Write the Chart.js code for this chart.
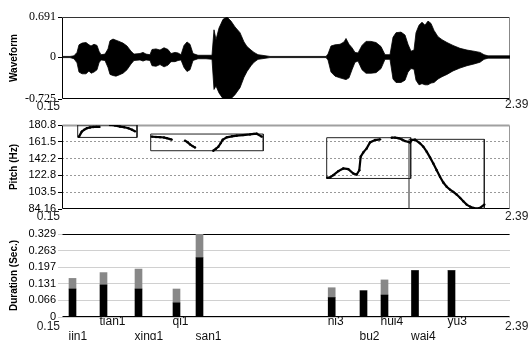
<!DOCTYPE html>
<html>
<head>
<meta charset="utf-8">
<script src="https://cdn.jsdelivr.net/npm/chart.js@4.4.1/dist/chart.umd.min.js"></script>
<style>
    html, body { margin: 0; padding: 0; background: #fff; }
    #wrap { position: relative; width: 530px; height: 340px; }
    #wrap canvas { position: absolute; left: 0; }
</style>
</head>
<body>
<div id="wrap">
    <canvas id="wave_chart" width="530" height="112" style="top:0px"></canvas>
    <canvas id="pitch_chart" width="530" height="108" style="top:112px"></canvas>
    <canvas id="dur_chart" width="530" height="120" style="top:220px"></canvas>
</div>
<script>
var timeRange = [0.15, 2.39];
var waveTicks = [-0.725, 0, 0.691];
var pitchTicks = [84.16, 103.5, 122.8, 142.2, 161.5, 180.8];
var durTicks = [0, 0.066, 0.131, 0.197, 0.263, 0.329];

// waveform envelope (seconds, upper / lower amplitude)
var waveTime = [0.15, 0.19, 0.21, 0.225, 0.235, 0.25, 0.27, 0.285, 0.295, 0.31,
    0.325, 0.335, 0.345, 0.365, 0.38, 0.39, 0.405, 0.42, 0.435, 0.455,
    0.475, 0.495, 0.51, 0.54, 0.555, 0.57, 0.59, 0.6, 0.62, 0.64,
    0.66, 0.68, 0.695, 0.715, 0.73, 0.745, 0.76, 0.775, 0.79, 0.805,
    0.83, 0.87, 0.9, 0.91, 0.92, 0.935, 0.955, 0.975, 0.995, 1.015,
    1.04, 1.06, 1.075, 1.095, 1.11, 1.13, 1.15, 1.19, 1.34, 1.47,
    1.48, 1.495, 1.515, 1.54, 1.56, 1.57, 1.585, 1.6, 1.615, 1.63,
    1.65, 1.67, 1.695, 1.72, 1.745, 1.765, 1.79, 1.805, 1.82, 1.845,
    1.865, 1.88, 1.895, 1.91, 1.92, 1.935, 1.95, 1.965, 1.98, 1.995,
    2.01, 2.03, 2.05, 2.075, 2.105, 2.14, 2.175, 2.21, 2.24, 2.26,
    2.28, 2.34, 2.39];
var waveUpper = [0.01, 0.01, 0.02, 0.08, 0.21, 0.24, 0.25, 0.21, 0.19, 0.22,
    0.20, 0.10, 0.04, 0.05, 0.14, 0.28, 0.31, 0.29, 0.27, 0.24,
    0.19, 0.10, 0.05, 0.06, 0.08, 0.05, 0.04, 0.13, 0.14, 0.12,
    0.16, 0.13, 0.06, 0.08, 0.07, 0.04, 0.20, 0.26, 0.22, 0.06,
    0.03, 0.03, 0.03, 0.47, 0.30, 0.50, 0.65, 0.69, 0.62, 0.52,
    0.42, 0.26, 0.18, 0.12, 0.08, 0.04, 0.03, 0.01, 0.01, 0.01,
    0.05, 0.19, 0.21, 0.22, 0.26, 0.32, 0.22, 0.16, 0.08, 0.07,
    0.20, 0.27, 0.27, 0.25, 0.18, 0.04, 0.04, 0.34, 0.42, 0.43,
    0.38, 0.22, 0.10, 0.12, 0.42, 0.55, 0.60, 0.55, 0.62, 0.58,
    0.46, 0.35, 0.30, 0.25, 0.20, 0.15, 0.12, 0.10, 0.08, 0.04,
    0.02, 0.02, 0.02];
var waveLower = [-0.01, -0.01, -0.03, -0.10, -0.26, -0.29, -0.29, -0.24, -0.28, -0.26,
    -0.22, -0.10, -0.05, -0.06, -0.18, -0.30, -0.32, -0.33, -0.31, -0.28,
    -0.22, -0.12, -0.06, -0.05, -0.07, -0.05, -0.06, -0.15, -0.16, -0.13,
    -0.17, -0.14, -0.08, -0.08, -0.06, -0.05, -0.18, -0.25, -0.22, -0.06,
    -0.03, -0.03, -0.04, -0.56, -0.50, -0.62, -0.72, -0.725, -0.72, -0.65,
    -0.53, -0.35, -0.25, -0.15, -0.09, -0.04, -0.03, -0.01, -0.01, -0.01,
    -0.05, -0.26, -0.33, -0.36, -0.38, -0.39, -0.36, -0.22, -0.09, -0.07,
    -0.22, -0.28, -0.28, -0.27, -0.20, -0.04, -0.04, -0.38, -0.44, -0.44,
    -0.40, -0.26, -0.20, -0.21, -0.40, -0.48, -0.46, -0.48, -0.48, -0.45,
    -0.44, -0.38, -0.34, -0.30, -0.24, -0.19, -0.15, -0.12, -0.09, -0.04,
    -0.02, -0.02, -0.02];

// pitch track, null = unvoiced gap
var pitchTime = [0.235, 0.249, 0.262, 0.274, 0.29, 0.307, 0.322, 0.337, null,
    0.39, 0.415, 0.44, 0.461, 0.482, 0.50, 0.515, null,
    0.5985, 0.62, 0.64, 0.66, 0.6735, 0.6985, null,
    0.765, 0.778, 0.79, 0.803, 0.815, null,
    0.9065, 0.92, 0.9315, 0.9435, 0.9535, 0.9735, 1.0, 1.0235, 1.055, 1.09, 1.11, 1.1235, 1.1485, null,
    1.4765, 1.49, 1.5065, 1.5315, 1.5565, 1.5815, 1.6065, 1.6235, 1.6365, 1.6435, 1.6565, 1.6735, 1.69, 1.715, 1.74, null,
    1.7985, 1.815, 1.8315, 1.85, 1.865, 1.89, 1.8985, 1.915, 1.94, 1.9565, 1.9735, 1.99, 2.0065, 2.0235,
    2.04, 2.0565, 2.0735, 2.09, 2.1065, 2.1235, 2.14, 2.1565, 2.1735, 2.19, 2.2065, 2.2235, 2.24, 2.2615];
var pitchHz = [167.4, 173.2, 175.5, 177, 178, 178.5, 178.7, 178.6, null,
    180.8, 180.2, 179, 178.2, 177, 175.3, 173.5, null,
    167.4, 167.0, 166.8, 166.4, 165.7, 164.0, null,
    162.8, 161, 158.5, 156.5, 155, null,
    151.2, 153.5, 155.8, 160, 163.9, 166.6, 167.8, 168.5, 169.2, 170, 170.6, 170.8, 167.4, null,
    120.1, 120.5, 123.1, 127.7, 130.8, 130, 125, 123.9, 128.8, 144.3, 149.3, 153.9, 160.8, 163.5, 164.3, null,
    166.2, 166.3, 165.7, 164, 162.3, 160.8, 163.5, 163.9, 159.7, 155.9, 150.1, 143.5, 136.6, 128.8,
    121.2, 114.6, 109.7, 106.5, 103.9, 100.8, 97, 93, 89.2, 86.9, 85.4, 84.6, 85.4, 89.2];

var boxStart = [0.2285, 0.5935, 1.4735, 1.885];
var boxEnd = [0.525, 1.1565, 1.8935, 2.2615];
var boxHigh = [180.8, 170.4, 166.2, 164.3];
var boxLow = [166.5, 151.2, 119.3, 84.16];

var syllables = ["jin1", "tian1", "xing1", "qi1", "san1", "ni3", "bu2", "hui4", "wai4", "yu3"];
var sylTime = [0.2025, 0.3575, 0.5325, 0.7225, 0.8375, 1.4985, 1.6575, 1.7625, 1.915, 2.0975];
var durVoiced = [0.111, 0.127, 0.111, 0.056, 0.235, 0.077, 0.104, 0.087, 0.184, 0.184];
var durTotal = [0.153, 0.176, 0.190, 0.111, 0.329, 0.116, 0.104, 0.147, 0.184, 0.184];

var sansFont = "'Liberation Sans', Arial, sans-serif";

new Chart(document.getElementById("wave_chart").getContext("2d"), getChartJs('wave'));
new Chart(document.getElementById("pitch_chart").getContext("2d"), getChartJs('pitch'));
new Chart(document.getElementById("dur_chart").getContext("2d"), getChartJs('dur'));

function line(ctx, side, x1, y1, x2, y2) {
    if (!side) return;
    ctx.strokeStyle = side[0];
    ctx.lineWidth = side[1];
    ctx.beginPath();
    ctx.moveTo(x1, y1);
    ctx.lineTo(x2, y2);
    ctx.stroke();
}

// plot frame + the 0.15 / 2.39 end labels under each panel
function framePlugin(sides, gap) {
    return {
        id: 'frame',
        beforeDatasetsDraw: function (chart) {
            var a = chart.chartArea, ctx = chart.ctx;
            var l = Math.round(a.left) + 0.5, r = Math.round(a.right) - 0.5;
            var t = Math.round(a.top) + 0.5, b = Math.round(a.bottom) - 0.5;
            ctx.save();
            line(ctx, sides.top, l, t, r, t);
            line(ctx, sides.right, r, t, r, b);
            line(ctx, sides.bottom, l, b, r, b);
            line(ctx, sides.left, l, t, l, b);
            ctx.restore();
        },
        afterDraw: function (chart) {
            var ctx = chart.ctx, xs = chart.scales.x, a = chart.chartArea;
            ctx.save();
            ctx.font = "12px " + sansFont;
            ctx.fillStyle = "#222";
            ctx.textBaseline = "middle";
            ctx.textAlign = "right";
            ctx.fillText(String(timeRange[0]), xs.getPixelForValue(timeRange[0]) - 2, a.bottom + gap[0]);
            ctx.textAlign = "left";
            ctx.fillText(String(timeRange[1]), xs.getPixelForValue(timeRange[1]) - 5, a.bottom + gap[1]);
            if (chart.canvas.id === "dur_chart") {
                ctx.fillStyle = "#111";
                for (var i = 0; i < syllables.length; i++) {
                    var y = a.bottom + (i % 2 ? 5 : 20);
                    ctx.fillText(syllables[i], xs.getPixelForValue(sylTime[i]) - 4, y);
                }
            }
            ctx.restore();
        }
    };
}

function yAxis(title, ticks, font) {
    return {
        min: ticks[0],
        max: ticks[ticks.length - 1],
        afterBuildTicks: function (s) { s.ticks = ticks.map(function (v) { return { value: v }; }); },
        afterFit: function (s) { s.width = 58; },
        ticks: {
            color: "#000",
            padding: 2,
            font: font,
            callback: function (v) { return String(v); }
        },
        border: { display: false },
        title: {
            display: true,
            text: title,
            color: "#000",
            font: { family: sansFont, size: 10, weight: 'bold' }
        }
    };
}

function getChartJs(type) {
    var config = null;
    var xAxis = { type: 'linear', min: timeRange[0], max: timeRange[1], offset: false, display: false };

    if (type === 'wave') {
        var y = yAxis("Waveform", waveTicks, { family: "'Liberation Serif', 'Times New Roman', serif", size: 12 });
        y.grid = { drawOnChartArea: false, tickLength: 4, tickColor: "#000" };
        config = {
            type: 'line',
            data: {
                datasets: [{
                    data: waveTime.map(function (t, i) { return { x: t, y: waveUpper[i] }; }),
                    borderColor: "#000",
                    borderWidth: 0.8,
                    pointRadius: 0,
                    backgroundColor: "#000",
                    fill: '+1'
                }, {
                    data: waveTime.map(function (t, i) { return { x: t, y: waveLower[i] }; }),
                    borderColor: "#000",
                    borderWidth: 0.8,
                    pointRadius: 0,
                    fill: false
                }]
            },
            options: {
                responsive: false,
                animation: false,
                layout: { padding: { left: 4, right: 20, top: 17, bottom: 13 } },
                plugins: { legend: { display: false }, tooltip: { enabled: false } },
                scales: { x: xAxis, y: y }
            },
            plugins: [framePlugin({ top: ["#333", 1], right: ["#888", 1], bottom: ["#000", 1], left: ["#000", 1] }, [8, 6])]
        };
    }
    if (type === 'pitch') {
        var yp = yAxis("Pitch (Hz)", pitchTicks, { family: sansFont, size: 11 });
        yp.grid = {
            tickLength: 4,
            tickColor: "#000",
            color: function (c) {
                var v = c.tick && c.tick.value;
                return (v === pitchTicks[0] || v === pitchTicks[pitchTicks.length - 1]) ? "rgba(0,0,0,0)" : "#999";
            }
        };
        yp.border = { display: false, dash: [2, 2] };
        var sets = [{
            data: pitchTime.map(function (t, i) { return { x: t, y: pitchHz[i] }; }),
            borderColor: "#000",
            backgroundColor: "#000",
            borderWidth: 2.2,
            pointRadius: 1.2,
            pointBorderWidth: 0,
            spanGaps: false
        }];
        for (var b = 0; b < boxStart.length; b++) {
            sets.push({
                data: [
                    { x: boxStart[b], y: boxHigh[b] }, { x: boxEnd[b], y: boxHigh[b] },
                    { x: boxEnd[b], y: boxLow[b] }, { x: boxStart[b], y: boxLow[b] },
                    { x: boxStart[b], y: boxHigh[b] }
                ],
                borderColor: "#222",
                borderWidth: 1,
                pointRadius: 0
            });
        }
        config = {
            type: 'line',
            data: { datasets: sets },
            options: {
                responsive: false,
                animation: false,
                layout: { padding: { left: 4, right: 20, top: 13, bottom: 11 } },
                plugins: { legend: { display: false }, tooltip: { enabled: false } },
                scales: { x: xAxis, y: yp }
            },
            plugins: [framePlugin({ top: ["#a0a0a0", 2], right: ["#999", 1], bottom: ["#000", 1], left: ["#000", 1] }, [8, 8])]
        };
    }
    if (type === 'dur') {
        var yd = yAxis("Duration (Sec.)", durTicks, { family: sansFont, size: 11 });
        yd.stacked = true;
        yd.grid = { tickLength: 4, color: "#d0d0d0", tickColor: "#d0d0d0" };
        xAxis.stacked = true;
        config = {
            type: 'bar',
            data: {
                datasets: [{
                    data: sylTime.map(function (t, i) { return { x: t, y: durVoiced[i] }; }),
                    backgroundColor: "#000",
                    barThickness: 7
                }, {
                    data: sylTime.map(function (t, i) { return { x: t, y: durTotal[i] - durVoiced[i] }; }),
                    backgroundColor: "#888",
                    barThickness: 7
                }]
            },
            options: {
                responsive: false,
                animation: false,
                layout: { padding: { left: 4, right: 20, top: 14, bottom: 23 } },
                plugins: { legend: { display: false }, tooltip: { enabled: false } },
                scales: { x: xAxis, y: yd }
            },
            plugins: [framePlugin({ top: ["#000", 1], bottom: ["#000", 1] }, [10, 10])]
        };
    }
    return config;
}
</script>
</body>
</html>
